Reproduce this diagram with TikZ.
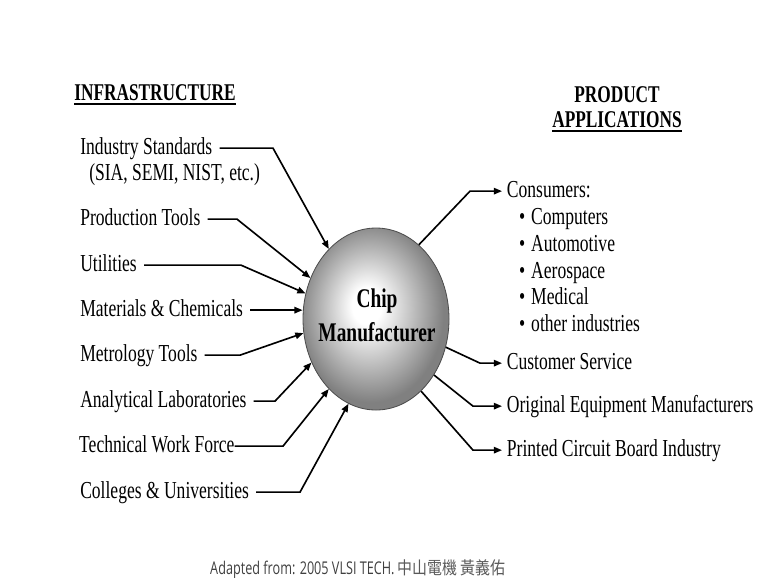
\documentclass[tikz,border=0pt]{standalone}
\usepackage{fontspec}
\setmainfont{Liberation Serif}[FakeStretch=0.72]
\newfontfamily\footfont{Open Sans}[FakeStretch=0.72]
\newfontfamily\cjk{Noto Sans CJK TC}[FakeStretch=0.85]
\usetikzlibrary{arrows.meta,shapes.geometric}

% soft light spot, a little up and to the left
\pgfdeclareradialshading{chip_shade}{\pgfpoint{-3.5bp}{4bp}}{%
  color(0bp)=(white); color(5bp)=(white);
  color(25bp)=(black!50); color(50bp)=(black!50)}

\tikzset{
        % Infrastructure labels
        lbl_in/.style={anchor=base west, inner xsep=6pt, inner ysep=0pt,
            text height=14pt, text depth=4pt, font=\fontsize{20.8}{22}\selectfont},
        % Application labels
        lbl_out/.style={lbl_in, inner xsep=4pt},
        % Bulleted items
        lbl_item/.style={lbl_in, inner xsep=0pt},
        % Column headings
        heading/.style={anchor=base, inner sep=0pt, font=\fontsize{20.5}{22}\bfseries},
        head_rule/.style={line width=1.6pt},
        % Arrows into and out of the manufacturer
        feed/.style={line width=1.4pt, -{Triangle[length=7pt,width=5.5pt]}},
        % Manufacturer
        node_chip/.style={ellipse, draw=black!70, line width=0.7pt, shading=chip_shade,
            minimum width=4.38cm, minimum height=5.46cm, inner sep=0pt},
        node_chip_name/.style={align=center, inner sep=0pt, font=\fontsize{23}{29}\bfseries}
}

\begin{document}
\begin{tikzpicture}[x=0.03cm, y=-0.03cm]
    \useasboundingbox (0,0) rectangle (767,577);

    % headings
    \node[heading] (infra) at (155,100) {INFRASTRUCTURE};
    \node[heading] (product) at (617,102) {PRODUCT};
    \node[heading] (appl) at (617,127) {APPLICATIONS};
    \draw[head_rule] ([yshift=-3.4pt]infra.base west) -- ([yshift=-3.4pt]infra.base east);
    \draw[head_rule] ([yshift=-3.4pt]appl.base west) -- ([yshift=-3.4pt]appl.base east);

    \node[node_chip] (chip) at (376,319) {};
    \node[node_chip_name] (chip_name) at (377,315) {Chip\\Manufacturer};

    % infrastructure side
    \node[lbl_in] (std) at (73,154) {Industry Standards};
    \node[lbl_in] (std_sub) at (82,180) {(SIA, SEMI, NIST, etc.)};
    \node[lbl_in] (tools) at (73,225) {Production Tools};
    \node[lbl_in] (util) at (73,271) {Utilities};
    \node[lbl_in] (chem) at (73,316) {Materials \& Chemicals};
    \node[lbl_in] (metro) at (73,361) {Metrology Tools};
    \node[lbl_in] (labs) at (73,407) {Analytical Laboratories};
    \node[lbl_in, inner xsep=0pt] (force) at (79,452) {Technical Work Force};
    \node[lbl_in] (colleges) at (73,498) {Colleges \& Universities};

    \draw[feed] (std.east) -- (std.east -| 273,0) -- (chip.124);
    \draw[feed] (tools.east) -- (tools.east -| 237,0) -- (chip.148);
    \draw[feed] (util.east) -- (util.east -| 241,0) -- (chip.160);
    \draw[feed] (chem.east) -- (chem.east -| chip.west);
    \draw[feed] (metro.east) -- (metro.east -| 240,0) -- (chip.191);
    \draw[feed] (labs.east) -- (labs.east -| 275,0) -- (chip.214);
    \draw[feed] (force.east) -- (force.east -| 283,0) -- (chip.236);
    \draw[feed] (colleges.east) -- (colleges.east -| 300,0) -- (chip.252);

    % application side
    \node[lbl_out] (consumers) at (502,197) {Consumers:};
    \node[lbl_item] (use_comp) at (519,224) {\textbullet\hspace{5pt}Computers};
    \node[lbl_item] (use_auto) at (519,251) {\textbullet\hspace{5pt}Automotive};
    \node[lbl_item] (use_aero) at (519,278) {\textbullet\hspace{5pt}Aerospace};
    \node[lbl_item] (use_med) at (519,304) {\textbullet\hspace{5pt}Medical};
    \node[lbl_item] (use_other) at (519,331) {\textbullet\hspace{5pt}other industries};
    \node[lbl_out] (service) at (502,369) {Customer Service};
    \node[lbl_out] (oem) at (502,412) {Original Equipment Manufacturers};
    \node[lbl_out] (pcb) at (502,456) {Printed Circuit Board Industry};

    \draw[feed] (chip.60) -- (470,0 |- consumers.west) -- (consumers.west);
    \draw[feed] (chip.338) -- (480,0 |- service.west) -- (service.west);
    \draw[feed] (chip.316) -- (473,0 |- oem.west) -- (oem.west);
    \draw[feed] (chip.302) -- (473,0 |- pcb.west) -- (pcb.west);

    % source line
    \node[anchor=base, inner sep=0pt, text=black!75, font=\footfont\fontsize{15}{17}\selectfont]
        (source) at (358,574) {Adapted from: 2005 VLSI TECH. {\cjk\color{black!65}中山電機 黃義佑}};
\end{tikzpicture}
\end{document}
